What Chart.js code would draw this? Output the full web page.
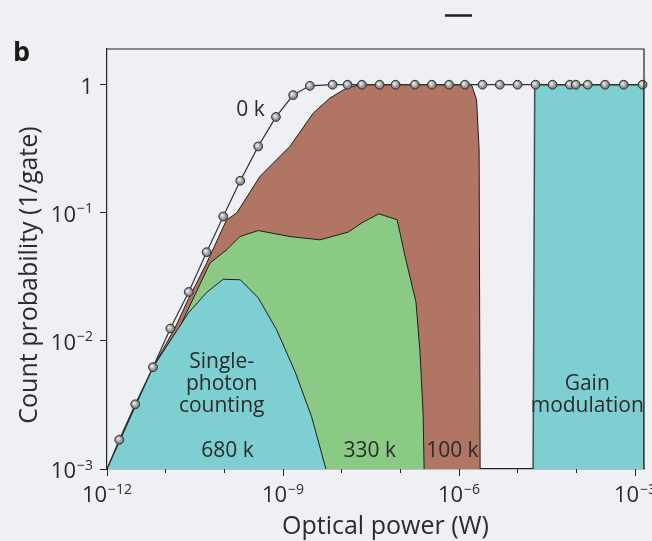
<!DOCTYPE html>
<html>
<head>
<meta charset="utf-8">
<script src="https://cdn.jsdelivr.net/npm/chart.js@4.4.1/dist/chart.umd.min.js"></script>
<style>
html, body { margin: 0; padding: 0; background: #eef0f4; }
</style>
</head>
<body>
<canvas id="grafica" width="652" height="541"></canvas>
<script>
// decades on the axes
const xTicks = [1e-12, 1e-11, 1e-10, 1e-9, 1e-8, 1e-7, 1e-6, 1e-5, 1e-4, 1e-3];
const xMajor = [1e-12, 1e-9, 1e-6, 1e-3];
const xTickLabels = [["10", "−12"], ["10", "−9"], ["10", "−6"], ["10", "−3"]];
const yTicks = [1e-3, 1e-2, 1e-1, 1];
const yTickLabels = [["10", "−3"], ["10", "−2"], ["10", "−1"], ["1", ""]];

// 0 k curve (points)
const powerZeroK = [1e-12, 1.62e-12, 3.03e-12, 6.08e-12, 1.2e-11, 2.47e-11, 4.99e-11, 9.57e-11,
    1.87e-10, 3.78e-10, 7.57e-10, 1.49e-9, 2.87e-9, 7.0e-9, 1.26e-8, 2.21e-8, 4.43e-8, 8.28e-8,
    1.77e-7, 3.44e-7, 6.78e-7, 1.26e-6, 2.51e-6, 4.95e-6, 9.93e-6, 2.01e-5, 3.92e-5, 7.73e-5,
    9.77e-5, 1.56e-4, 3.08e-4, 6.41e-4, 1.34e-3];
const probZeroK = [1e-3, 1.69e-3, 3.2e-3, 6.23e-3, 1.25e-2, 2.41e-2, 4.93e-2, 9.36e-2,
    0.178, 0.33, 0.56, 0.83, 0.98, 1, 1, 1, 1, 1,
    1, 1, 1, 1, 1, 1, 1, 1, 1, 1,
    1, 1, 1, 1, 1];

// 100 k region
const power100k = [1e-12, 6.08e-12, 1.44e-11, 2.4e-11, 5.0e-11, 1.09e-10, 1.62e-10, 4.04e-10,
    1.31e-9, 3.27e-9, 6.3e-9, 1.21e-8, 2.04e-8, 1.63e-6, 1.99e-6, 2.2e-6, 2.29e-6];
const prob100k = [1e-3, 6.23e-3, 1.26e-2, 2.09e-2, 4.05e-2, 8.8e-2, 0.0995, 0.192,
    0.33, 0.60, 0.787, 0.94, 1, 1, 0.764, 0.31, 1e-3];

// 330 k region
const power330k = [1e-12, 6.08e-12, 1.75e-11, 5.69e-11, 1.09e-10, 1.85e-10, 3.78e-10, 1.31e-9,
    4.26e-9, 1.29e-8, 2.32e-8, 4.31e-8, 8.81e-8, 1.24e-7, 1.84e-7, 2.15e-7, 2.44e-7, 2.54e-7];
const prob330k = [1e-3, 6.23e-3, 1.29e-2, 4.05e-2, 5.14e-2, 6.53e-2, 7.27e-2, 6.53e-2,
    6.15e-2, 7.07e-2, 8.46e-2, 9.82e-2, 8.81e-2, 4.3e-2, 2.03e-2, 8.5e-3, 2.72e-3, 1e-3];

// 680 k region
const power680k = [1e-12, 6.08e-12, 2.43e-11, 5.0e-11, 9.57e-11, 1.87e-10, 3.78e-10, 7.78e-10,
    1.6e-9, 3.07e-9, 5.38e-9];
const prob680k = [1e-3, 6.23e-3, 1.65e-2, 2.39e-2, 3.03e-2, 3.0e-2, 2.17e-2, 1.22e-2,
    5.76e-3, 2.56e-3, 1e-3];

// gain modulation region
const powerGain = [1.83e-5, 1.95e-5, 1.42e-3, 1.42e-3];
const probGain = [1e-3, 1, 1, 1e-3];

const annotations = [
    {lines: ["0 k"], x: 2.8e-10, y: 0.573},
    {lines: ["Single-", "photon", "counting"], x: 9.0e-11, y: 6.1e-3},
    {lines: ["680 k"], x: 1.13e-10, y: 1.24e-3},
    {lines: ["330 k"], x: 3.0e-8, y: 1.24e-3},
    {lines: ["100 k"], x: 7.7e-7, y: 1.24e-3},
    {lines: ["Gain", "modulation"], x: 1.53e-4, y: 4.14e-3}
];
const xTitle = "Optical power (W)";
const yTitle = "Count probability (1/gate)";
const panelLetter = "b";

const fuente = "'Open Sans', 'Noto Sans', sans-serif";
const colorTexto = "#2b2b2b";

function zip(xs, ys){
    return xs.map((x, i) => ({x: x, y: ys[i]}));
}

function bolita(c){
    if (!c.parsed || !c.chart.scales.x) return "#9a9a9a";
    const px = c.chart.scales.x.getPixelForValue(c.parsed.x);
    const py = c.chart.scales.y.getPixelForValue(c.parsed.y);
    if (!isFinite(px) || !isFinite(py)) return "#9a9a9a";
    const g = c.chart.ctx.createRadialGradient(px - 1.3, py - 1.3, 0.4, px, py, 4.6);
    g.addColorStop(0, "#eeeeee");
    g.addColorStop(1, "#666666");
    return g;
}

function dibujarPotencia(ctx, base, exp, x, y, align){
    ctx.font = "22px " + fuente;
    const wb = ctx.measureText(base).width;
    ctx.font = "14px " + fuente;
    const we = exp ? ctx.measureText(exp).width + 1 : 0;
    const total = wb + we;
    let x0 = align === "right" ? x - total : x - total / 2;
    ctx.textAlign = "left";
    ctx.textBaseline = "alphabetic";
    ctx.font = "22px " + fuente;
    ctx.fillText(base, x0, y);
    if (exp){
        ctx.font = "14px " + fuente;
        ctx.fillText(exp, x0 + wb + 1, y - 8.5);
    }
}

const textos = {
    id: "textos",
    beforeDraw(chart){
        const ctx = chart.ctx;
        ctx.save();
        ctx.fillStyle = "#eef0f4";
        ctx.fillRect(0, 0, chart.width, chart.height);
        ctx.restore();
    },
    afterDraw(chart){
        const {ctx, chartArea: a, scales: {x, y}} = chart;
        ctx.save();
        // top and right frame
        ctx.strokeStyle = "#222";
        ctx.lineWidth = 1.2;
        ctx.beginPath();
        ctx.moveTo(a.left, a.top);
        ctx.lineTo(a.right, a.top);
        ctx.lineTo(a.right, a.bottom);
        ctx.stroke();
        // longer major ticks
        ctx.lineWidth = 1;
        xMajor.forEach(v => {
            const px = Math.round(x.getPixelForValue(v)) + 0.5;
            ctx.beginPath();
            ctx.moveTo(px, a.bottom);
            ctx.lineTo(px, a.bottom + 7);
            ctx.stroke();
        });
        // dash above the panel
        ctx.lineWidth = 2.5;
        ctx.beginPath();
        ctx.moveTo(445, 15.5);
        ctx.lineTo(472, 15.5);
        ctx.stroke();

        ctx.fillStyle = colorTexto;
        xMajor.forEach((v, i) => {
            dibujarPotencia(ctx, xTickLabels[i][0], xTickLabels[i][1], x.getPixelForValue(v), a.bottom + 33, "center");
        });
        yTicks.forEach((v, i) => {
            dibujarPotencia(ctx, yTickLabels[i][0], yTickLabels[i][1], a.left - 14, y.getPixelForValue(v) + 9, "right");
        });

        ctx.font = "25px " + fuente;
        ctx.textAlign = "center";
        ctx.textBaseline = "alphabetic";
        ctx.fillText(xTitle, (a.left + a.right) / 2 + 10, chart.height - 7);
        ctx.save();
        ctx.translate(37, (a.top + a.bottom) / 2 + 16);
        ctx.rotate(-Math.PI / 2);
        ctx.fillText(yTitle, 0, 0);
        ctx.restore();

        ctx.font = "bold 27px " + fuente;
        ctx.textAlign = "left";
        ctx.fillStyle = "#1a1a1a";
        ctx.fillText(panelLetter, 13, 61);

        ctx.fillStyle = colorTexto;
        ctx.font = "21px " + fuente;
        ctx.textAlign = "center";
        annotations.forEach(an => {
            const px = x.getPixelForValue(an.x);
            const py = y.getPixelForValue(an.y);
            an.lines.forEach((t, k) => ctx.fillText(t, px, py + k * 22));
        });
        ctx.restore();
    }
};

const grafica = new Chart("grafica", {
    type: "scatter",
    data: {
        datasets: [
            {
                label: "0 k",
                data: zip(powerZeroK, probZeroK),
                showLine: true,
                borderColor: "#333",
                borderWidth: 1.2,
                pointRadius: powerZeroK.map((v, i) => i === 0 ? 0 : 4.4),
                pointBackgroundColor: bolita,
                pointBorderColor: "#333333",
                pointBorderWidth: 1,
                fill: false,
                clip: false
            },
            {
                label: "680 k",
                data: zip(power680k, prob680k),
                showLine: true,
                borderColor: "#1e1e1e",
                borderWidth: 1,
                backgroundColor: "#7ecfd2",
                pointRadius: 0,
                fill: "start"
            },
            {
                label: "330 k",
                data: zip(power330k, prob330k),
                showLine: true,
                borderColor: "#1e1e1e",
                borderWidth: 1,
                backgroundColor: "#8bca85",
                pointRadius: 0,
                fill: "start"
            },
            {
                label: "100 k",
                data: zip(power100k, prob100k),
                showLine: true,
                borderColor: "#1e1e1e",
                borderWidth: 1,
                backgroundColor: "#b07663",
                pointRadius: 0,
                fill: "start"
            },
            {
                label: "Gain modulation",
                data: zip(powerGain, probGain),
                showLine: true,
                borderColor: "#4a4a4a",
                borderWidth: 1.5,
                backgroundColor: "#7ecfd2",
                pointRadius: 0,
                fill: "start"
            }
        ]
    },
    plugins: [textos],
    options: {
        responsive: false,
        animation: false,
        layout: {padding: {top: 49, right: 8, left: 0, bottom: 0}},
        elements: {line: {tension: 0}},
        scales: {
            x: {
                type: "logarithmic",
                min: 1e-12,
                max: 1.42e-3,
                afterBuildTicks: (scale) => { scale.ticks = xTicks.map(v => ({value: v})); },
                afterFit: (scale) => { scale.height = 72; },
                grid: {drawOnChartArea: false, drawTicks: true, tickLength: 4, color: "#222"},
                border: {display: true, color: "#222", width: 1.2},
                ticks: {display: false, autoSkip: false}
            },
            y: {
                type: "logarithmic",
                min: 1e-3,
                max: 1.9,
                afterBuildTicks: (scale) => { scale.ticks = yTicks.map(v => ({value: v})); },
                afterFit: (scale) => { scale.width = 107; },
                grid: {drawOnChartArea: false, drawTicks: true, tickLength: 7, color: "#222"},
                border: {display: true, color: "#222", width: 1.2},
                ticks: {display: false, autoSkip: false}
            }
        },
        plugins: {
            legend: {display: false},
            tooltip: {enabled: false}
        }
    }
});
</script>
</body>
</html>
